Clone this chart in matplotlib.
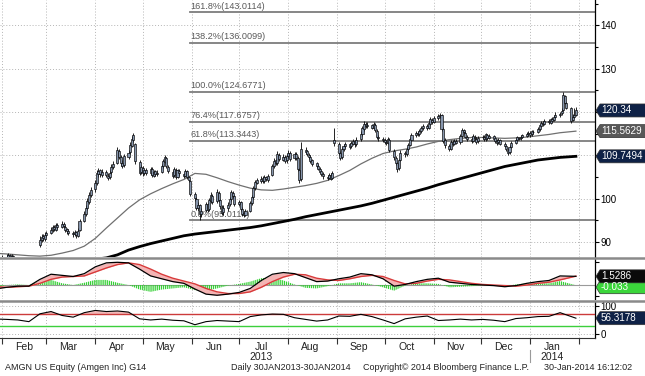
import numpy as np
import pandas as pd
import matplotlib
matplotlib.use("Agg")
import matplotlib.pyplot as plt
import matplotlib.dates as mdates
from matplotlib.patches import Polygon
from matplotlib.lines import Line2D
from matplotlib.transforms import IdentityTransform

plt.rcParams['font.family'] = ['Liberation Sans', 'DejaVu Sans']
plt.rcParams['hatch.linewidth'] = 0.9

# ---------------- data ----------------
opens = [85.0, 85.4, 85.7,
 86.2, 86.6, 86.9, 86.3, 86.8,  86.3, 86.0, 85.7, 85.3, 85.9,  85.6, 85.3, 84.9, 84.7, 85.4,
 89.2, 90.4, 91.3, 90.7, 91.5,  92.1, 92.7, 93.5, 92.8, 93.9,  93.4, 94.2, 93.5, 92.9, 92.5,
 92.1, 91.7, 92.3, 91.4, 92.7,  94.9, 96.4, 97.9, 99.3, 100.9,  102.2, 103.6, 105.6, 106.5, 105.4,
 106.1, 105.3, 104.9, 106.1, 107.2,  108.3, 111.0, 109.6, 108.2, 107.7,  109.6, 110.7, 112.2, 113.6, 112.5,
 108.4, 106.1, 107.0, 105.9, 106.6,  105.8, 106.9, 105.3, 106.3, 105.6,  106.1, 107.4, 108.5, 109.3, 107.3,
 106.2, 105.4, 106.7, 105.0, 106.4,  105.7, 105.3, 106.3, 104.9, 104.0,  101.1, 100.0, 97.9, 98.4, 96.5,
 97.3, 98.7, 97.5, 99.5, 100.7,  99.4, 101.3, 99.6, 98.1, 96.8,  97.8, 98.7, 99.8, 101.3, 100.5,
 98.8, 99.1, 97.7, 96.6, 96.3,  97.2, 98.9, 100.3, 102.4, 103.7,  104.1, 104.7, 104.0, 104.9, 104.3,
 105.4, 107.4, 108.8, 108.1, 110.1,  109.0, 109.6, 108.8, 109.8, 110.5,  109.3, 110.2, 109.3, 106.6, 104.5,
 111.2, 110.9, 110.1, 109.5, 108.8,  108.1, 107.5, 106.8, 106.3, 105.7,  105.0, 104.7, 105.4, 104.7, 113.5,
 112.6, 110.5, 109.5, 111.4, 112.1,  112.5, 112.1, 112.7, 113.2, 112.6,  113.7, 114.9, 116.1, 117.2, 116.7,
 116.9, 116.3, 117.0, 115.7, 114.3,  113.8, 113.5, 113.1, 112.9, 113.6,  111.0, 109.4, 108.1, 107.0, 108.9,
 110.5, 110.3, 111.4, 112.4, 113.6,  114.7, 115.1, 114.9, 115.5, 116.2,  116.7, 116.3, 117.3, 118.2, 117.7,
 118.6, 119.0, 119.2, 116.1, 113.5,  112.2, 111.5, 113.0, 112.7, 113.3,  113.0, 114.4, 115.8, 115.2, 114.3,
 113.7, 113.3, 114.3, 113.8, 113.2,  114.1, 114.2, 113.8, 114.7, 114.0,  114.4, 113.9, 113.3, 113.0, 113.5,
 112.6, 112.1, 111.3, 110.7, 112.0,  112.9, 113.5, 114.0, 113.9, 114.2,  114.5, 114.8, 115.1, 114.8, 115.4,
 115.4, 116.0, 116.8, 117.4, 117.1,  117.9, 117.5, 118.4, 118.1, 118.8,  119.3, 119.7, 120.5, 123.6, 122.0,
 120.8, 118.1, 118.8, 119.3]
highs = [86.0, 86.4, 87.0,
 87.2, 87.4, 87.3, 87.2, 87.0,  86.4, 86.3, 86.0, 86.2, 86.2,  85.9, 85.6, 85.3, 85.8, 86.3,
 91.3, 91.9, 91.7, 92.3, 92.6,  93.4, 94.0, 93.9, 94.4, 94.3,  94.7, 94.6, 93.9, 93.3, 92.9,
 92.5, 92.8, 92.6, 93.1, 95.3,  97.1, 98.4, 100.1, 101.5, 102.7,  104.2, 106.5, 107.1, 106.9, 106.8,
 106.6, 105.9, 106.5, 107.9, 108.7,  111.9, 111.5, 110.1, 108.8, 110.3,  111.2, 113.0, 114.4, 115.2, 112.9,
 108.9, 107.7, 107.5, 106.9, 107.0,  107.3, 107.2, 106.7, 106.6, 106.5,  107.9, 109.1, 110.0, 109.6, 107.7,
 106.6, 107.3, 107.0, 106.9, 106.8,  106.0, 106.9, 106.6, 105.3, 104.3,  101.6, 100.4, 99.1, 98.8, 97.8,
 99.3, 99.0, 100.1, 101.4, 101.0,  102.1, 101.7, 100.0, 98.5, 98.4,  99.1, 100.4, 102.0, 101.8, 100.8,
 99.7, 99.5, 98.1, 97.0, 97.5,  99.4, 100.9, 103.0, 104.3, 104.8,  105.1, 105.2, 105.5, 105.3, 105.7,
 108.0, 109.4, 109.2, 110.9, 110.5,  110.2, 110.0, 110.4, 111.2, 110.9,  110.8, 110.7, 109.8, 107.1, 113.0,
 111.8, 111.3, 110.6, 110.0, 109.2,  108.5, 107.9, 107.3, 106.7, 106.1,  105.4, 106.0, 105.8, 106.3, 116.2,
 113.0, 111.0, 111.9, 112.7, 113.1,  112.9, 113.3, 113.8, 113.6, 114.1,  115.5, 116.8, 117.8, 117.7, 117.6,
 117.3, 117.6, 117.4, 116.0, 114.7,  114.2, 114.0, 113.5, 114.1, 113.9,  111.4, 109.8, 108.5, 109.2, 111.1,
 111.0, 111.9, 112.8, 114.1, 115.1,  115.6, 115.5, 116.0, 116.8, 117.2,  117.1, 117.9, 118.8, 118.6, 119.0,
 119.6, 119.7, 119.5, 116.5, 114.0,  112.6, 113.6, 113.5, 113.8, 113.7,  114.9, 116.3, 116.1, 115.6, 114.7,
 114.1, 114.8, 114.7, 114.1, 114.4,  114.7, 114.6, 115.2, 115.0, 114.9,  114.7, 114.2, 113.7, 114.0, 113.8,
 113.0, 112.4, 111.7, 112.3, 113.2,  114.0, 114.5, 114.3, 114.7, 115.0,  115.3, 115.7, 115.5, 115.9, 115.8,
 116.6, 117.3, 117.9, 117.8, 118.3,  118.3, 118.7, 118.8, 119.3, 119.9,  120.1, 120.8, 124.68, 123.9, 122.4,
 121.1, 119.5, 121.0, 121.2]
lows = [84.7, 85.1, 85.4,
 85.8, 86.1, 85.9, 85.9, 85.7,  85.4, 85.2, 84.9, 85.0, 85.1,  84.8, 84.4, 84.1, 84.3, 85.0,
 88.9, 89.9, 90.2, 90.3, 91.1,  91.7, 92.3, 92.4, 92.5, 93.0,  93.1, 93.2, 92.3, 91.8, 91.5,
 91.2, 91.4, 91.0, 91.1, 92.4,  94.5, 95.9, 97.3, 98.8, 100.4,  101.6, 103.1, 105.0, 105.0, 104.9,
 105.0, 104.3, 104.4, 105.7, 106.8,  108.0, 109.1, 107.5, 107.0, 107.3,  109.1, 110.2, 111.8, 113.1, 108.0,
 105.5, 105.6, 105.3, 105.4, 105.4,  105.4, 105.0, 104.9, 105.2, 105.3,  105.8, 107.0, 108.1, 107.0, 105.9,
 104.8, 105.0, 104.5, 104.7, 105.3,  104.8, 104.9, 104.6, 103.8, 100.5,  99.4, 97.3, 97.2, 95.0, 95.8,
 96.9, 96.8, 97.1, 99.0, 98.8,  99.0, 99.3, 97.7, 96.1, 96.3,  97.2, 98.3, 99.4, 100.1, 98.2,
 98.2, 97.2, 96.0, 95.7, 95.9,  96.9, 98.5, 100.0, 102.0, 103.3,  103.7, 103.7, 103.6, 104.0, 103.9,
 105.1, 107.0, 107.7, 107.8, 108.6,  108.6, 108.2, 108.3, 109.4, 108.7,  108.9, 109.0, 106.3, 103.6, 104.1,
 110.2, 109.8, 109.1, 108.2, 107.6,  107.1, 106.5, 105.8, 105.1, 104.6,  104.3, 104.4, 104.2, 104.4, 112.2,
 110.1, 108.9, 109.1, 110.9, 111.7,  111.5, 111.7, 112.3, 112.0, 112.2,  113.3, 114.5, 115.7, 116.3, 116.3,
 116.0, 116.0, 115.4, 113.8, 113.4,  113.1, 112.6, 112.3, 112.5, 110.8,  109.0, 107.8, 106.1, 106.6, 108.6,
 109.7, 109.9, 111.0, 112.1, 113.2,  114.3, 114.4, 114.5, 115.2, 115.9,  115.8, 116.0, 117.0, 117.2, 117.4,
 118.2, 118.6, 115.6, 112.9, 111.7,  110.9, 111.1, 112.2, 112.3, 112.5,  112.7, 114.1, 115.0, 113.9, 113.4,
 112.8, 113.0, 113.5, 112.7, 112.9,  113.7, 113.3, 113.4, 113.6, 113.7,  113.5, 112.8, 112.4, 112.7, 112.3,
 111.8, 111.0, 110.0, 110.3, 111.7,  112.6, 113.2, 113.5, 113.5, 113.9,  114.2, 114.5, 114.3, 114.5, 114.9,
 115.1, 115.7, 116.5, 116.8, 116.9,  117.2, 117.2, 117.6, 117.8, 118.5,  118.9, 119.3, 120.3, 121.8, 120.6,
 117.4, 117.8, 118.5, 119.0]
closes = [85.5, 85.8, 86.3,
 86.5, 86.9, 86.4, 86.8, 86.2,  86.0, 85.6, 85.4, 85.8, 85.5,  85.2, 84.9, 84.6, 85.3, 85.8,
 90.5, 91.2, 90.8, 91.6, 92.0,  92.8, 93.4, 92.9, 93.8, 93.5,  94.1, 93.6, 92.8, 92.4, 92.0,
 91.8, 92.2, 91.5, 92.6, 94.8,  96.5, 97.8, 99.5, 100.8, 102.0,  103.5, 105.8, 106.4, 105.6, 106.2,
 105.4, 104.8, 106.0, 107.3, 108.0,  111.3, 109.5, 108.1, 107.6, 109.8,  110.5, 112.4, 113.8, 114.6, 108.6,
 106.0, 107.2, 105.8, 106.5, 105.9,  106.8, 105.4, 106.2, 105.7, 106.0,  107.5, 108.6, 109.5, 107.4, 106.3,
 105.3, 106.8, 104.9, 106.5, 105.8,  105.2, 106.4, 105.0, 104.2, 101.0,  100.2, 97.8, 98.5, 96.4, 97.2,
 98.8, 97.4, 99.6, 100.8, 99.3,  101.5, 99.7, 98.2, 96.7, 97.9,  98.6, 99.9, 101.4, 100.6, 98.7,
 99.2, 97.6, 96.5, 96.2, 97.1,  99.0, 100.4, 102.5, 103.8, 104.2,  104.6, 104.1, 105.0, 104.4, 105.2,
 107.5, 108.6, 108.2, 110.3, 109.1,  109.5, 108.7, 109.9, 110.6, 109.2,  110.3, 109.4, 106.8, 104.2, 111.4,
 110.8, 110.2, 109.6, 108.7, 108.0,  107.6, 106.9, 106.2, 105.6, 105.1,  104.8, 105.5, 104.6, 105.9, 112.8,
 110.6, 109.4, 111.5, 112.2, 112.6,  112.0, 112.8, 113.3, 112.5, 113.6,  115.0, 116.2, 117.3, 116.8, 117.0,
 116.4, 117.1, 115.8, 114.2, 113.9,  113.6, 113.0, 112.8, 113.7, 111.2,  109.5, 108.2, 106.9, 108.8, 110.6,
 110.2, 111.5, 112.3, 113.7, 114.6,  115.2, 114.8, 115.6, 116.3, 116.8,  116.2, 117.4, 118.3, 117.6, 118.5,
 119.1, 119.3, 116.0, 113.4, 112.3,  111.4, 113.1, 112.6, 113.4, 112.9,  114.5, 115.9, 115.3, 114.2, 113.8,
 113.2, 114.4, 113.9, 113.1, 114.0,  114.3, 113.7, 114.8, 113.9, 114.5,  113.8, 113.2, 112.9, 113.6, 112.7,
 112.2, 111.4, 110.6, 111.9, 112.8,  113.6, 114.1, 113.8, 114.3, 114.6,  114.9, 115.2, 114.7, 115.5, 115.3,
 116.1, 116.9, 117.5, 117.2, 117.8,  117.6, 118.3, 118.0, 118.9, 119.4,  119.6, 120.3, 123.8, 122.1, 121.0,
 118.0, 118.9, 119.4, 120.34]

# weekly readings (first session, each Monday, last session)
ma50 = [87.3, 87.2, 87.0, 86.8, 86.7, 86.9, 87.4, 88.0, 89.0, 90.8, 93.2, 95.5, 97.8, 99.7,
        101.1, 102.3, 103.4, 104.4, 105.8, 105.6, 104.8, 103.9, 103.1, 102.4, 102.0, 101.9,
        102.2, 102.6, 103.0, 103.5, 104.2, 105.3, 106.5, 108.0, 109.3, 110.4, 111.0, 111.4,
        111.9, 112.6, 113.2, 113.6, 113.9, 114.1, 114.1, 114.0, 113.9, 114.0, 114.2, 114.5,
        114.8, 115.2, 115.5629]
ma200 = [81.5, 82.0, 82.5, 83.0, 83.5, 84.0, 84.5, 85.0, 85.5, 86.0, 86.3, 87.0, 88.1, 88.9,
         89.6, 90.2, 90.8, 91.4, 91.8, 92.1, 92.4, 92.7, 93.0, 93.3, 93.7, 94.2, 94.7, 95.2,
         95.8, 96.3, 96.8, 97.3, 97.8, 98.3, 98.9, 99.6, 100.3, 101.0, 101.7, 102.4, 103.2,
         103.9, 104.6, 105.3, 106.0, 106.7, 107.4, 107.9, 108.4, 108.9, 109.2, 109.5, 109.7494]
macd = [-0.6, -0.4, -0.2, -0.2, 1.0, 1.9, 1.7, 1.5, 2.0, 3.2, 3.9, 4.0, 3.9, 2.8, 1.6, 1.1,
        0.6, 0.3, -0.7, -1.6, -1.8, -1.6, -1.3, -0.6, 0.8, 1.9, 2.2, 2.0, 1.3, 0.6, 0.7, 1.1,
        1.4, 2.0, 1.8, 1.1, -0.2, 0.1, 0.6, 1.0, 1.2, 0.5, 0.3, 0.1, 0.0, -0.1, -0.3, -0.1,
        0.3, 0.6, 0.8, 1.6, 1.5286]
signal = [-0.3, -0.4, -0.3, -0.2, 0.3, 1.0, 1.4, 1.5, 1.6, 2.3, 3.0, 3.6, 3.9, 3.6, 2.8, 1.9,
          1.2, 0.7, 0.2, -0.6, -1.2, -1.5, -1.5, -1.2, -0.4, 0.6, 1.4, 1.9, 1.8, 1.2, 0.9, 0.8,
          1.1, 1.5, 1.7, 1.5, 0.8, 0.2, 0.3, 0.7, 1.0, 0.9, 0.6, 0.3, 0.1, 0.0, -0.1, -0.2,
          0.0, 0.3, 0.5, 0.9, 1.5616]
hist = [-0.3, 0.0, 0.1, 0.0, 0.7, 0.9, 0.3, 0.0, 0.4, 0.9, 0.9, 0.4, 0.0, -0.8, -1.2, -0.8,
        -0.6, -0.4, -0.9, -1.0, -0.6, -0.1, 0.2, 0.6, 1.2, 1.3, 0.8, 0.1, -0.5, -0.6, -0.2, 0.3,
        0.3, 0.5, 0.1, -0.4, -1.0, -0.1, 0.3, 0.3, 0.2, -0.4, -0.3, -0.2, -0.1, -0.1, -0.2, 0.1,
        0.3, 0.3, 0.3, 0.7, -0.033]
rsi = [53, 52, 50, 44, 72, 80, 66, 60, 76, 84, 80, 82, 78, 54, 50, 53, 49, 47, 33, 44, 48, 46,
       44, 62, 68, 71, 70, 58, 52, 46, 50, 64, 63, 70, 62, 50, 37, 54, 60, 64, 48, 50, 53, 50,
       52, 49, 44, 55, 58, 62, 63, 76, 56.3178]

fib_pct = ['161.8%', '138.2%', '100.0%', '76.4%', '61.8%', '0.0%']
fib_val = [143.0114, 136.0099, 124.6771, 117.6757, 113.3443, 95.0114]

price_ticks = [90, 100, 110, 120, 130, 140]
price_tick_labels = ['90', '100', '', '', '130', '140']   # 110 / 120 sit under the value tags
footer = ['AMGN US Equity (Amgen Inc) G14', 'Daily 30JAN2013-30JAN2014',
          'Copyright\u00a9 2014 Bloomberg Finance L.P.', '30-Jan-2014 16:12:02']

# ---------------- layout ----------------
W, H = 645, 376
fig = plt.figure(figsize=(W / 100, H / 100), dpi=100)
fig.patch.set_facecolor('white')

def fy(px):
    return 1 - px / H

RIGHT = 595 / W
ax = fig.add_axes([0, fy(257), RIGHT, 257 / H])
axm = fig.add_axes([0, fy(299), RIGHT, 40 / H])
axr = fig.add_axes([0, fy(338), RIGHT, 36 / H])

dates = pd.bdate_range('2013-01-30', '2014-01-30')
week_dates = ([pd.Timestamp('2013-01-30')] +
              list(pd.date_range('2013-02-04', periods=51, freq='7D')) +
              [pd.Timestamp('2014-01-30')])
xlim = (pd.Timestamp('2013-01-30 17:00'), pd.Timestamp('2014-02-11 02:00'))

O = np.array(opens); Hh = np.array(highs); L = np.array(lows); C = np.array(closes)

grid_kw = dict(color='#b5b5b5', linestyle=(0, (1, 2)), linewidth=0.7)

for a in (ax, axm, axr):
    a.set_xlim(*xlim)
    a.set_facecolor('white')
    for s in ('left', 'top'):
        a.spines[s].set_visible(False)
    a.spines['right'].set_color('black')
    a.spines['right'].set_linewidth(0.9)
    a.xaxis.set_major_locator(mdates.MonthLocator())
    a.xaxis.set_major_formatter(plt.NullFormatter())
    a.grid(axis='x', **grid_kw)
    a.set_axisbelow(True)
    a.yaxis.tick_right()
    a.tick_params(axis='y', direction='out', length=3, width=0.8, labelsize=7, pad=1,
                  colors='black')
ax.spines['bottom'].set_visible(False)
axm.spines['bottom'].set_visible(False)
ax.tick_params(axis='x', length=0)
axm.tick_params(axis='x', length=0)

# ---- main price panel ----
ax.set_ylim(86.5, 145.85)
ax.set_yticks(price_ticks)
ax.set_yticklabels(price_tick_labels)
ax.set_yticks([95, 105, 115, 125, 135, 145], minor=True)
ax.tick_params(axis='y', which='minor', direction='out', length=2, width=0.8)
ax.grid(axis='y', **grid_kw)

fib_start = pd.Timestamp('2013-05-31')
for p, v in zip(fib_pct, fib_val):
    ax.plot([fib_start, xlim[1]], [v, v], color='#7d7d7d', lw=1.3, zorder=2)
    ax.text(fib_start, v + 0.35, f'{p}({v:.4f})', fontsize=6.6, color='#5a5a5a',
            ha='left', va='bottom', zorder=2)

ax.plot(week_dates, ma200, color='black', lw=2.0, zorder=3)
ax.plot(week_dates, ma50, color='#707070', lw=0.9, zorder=3)

ax.vlines(dates, L, Hh, color='black', lw=0.6, zorder=4)
body_lo = np.minimum(O, C)
body_h = np.maximum(np.abs(C - O), 0.15)
ax.bar(dates, body_h, bottom=body_lo, width=1.3, color='#8796ad', edgecolor='black',
       linewidth=0.45, zorder=5)

# ---- MACD panel ----
axm.set_ylim(-2.46, 4.58)
axm.set_yticks([-2, 4])
axm.set_yticklabels([])
axm.axhline(0, color='#9a9a9a', lw=0.8, zorder=1)
axm.fill_between(week_dates, 0, hist, facecolor='none', edgecolor='#35d035',
                 hatch='||||||||', linewidth=0, zorder=2)
axm.fill_between(week_dates, macd, signal, color='#f4b4b4', lw=0, zorder=3)
axm.plot(week_dates, signal, color='#d83a3a', lw=1.0, zorder=4)
axm.plot(week_dates, macd, color='black', lw=0.9, zorder=5)

# ---- RSI panel ----
axr.set_ylim(-14.3, 114)
axr.set_yticks([0, 100])
axr.set_yticklabels(['0', '100'])
for v in (0, 100):
    axr.axhline(v, **grid_kw)
rsi_a = np.array(rsi)
axr.fill_between(week_dates, 70, rsi_a, where=rsi_a >= 70, interpolate=True,
                 color='#f2b9b9', lw=0, zorder=2)
axr.axhline(70, color='#cc3b3b', lw=1.0, zorder=3)
axr.axhline(30, color='#3ccf3c', lw=1.0, zorder=3)
axr.plot(week_dates, rsi, color='black', lw=0.8, zorder=4)

axr.spines['bottom'].set_color('#333333')
axr.spines['bottom'].set_linewidth(0.8)
axr.xaxis.set_minor_locator(mdates.MonthLocator(bymonthday=15))
axr.xaxis.set_minor_formatter(mdates.DateFormatter('%b'))
axr.tick_params(axis='x', which='major', direction='out', length=4, width=0.8,
                colors='#333333')
axr.tick_params(axis='x', which='minor', length=0, labelsize=7.5, pad=3,
                labelcolor='#222222')

for yr_date, yr in ((pd.Timestamp('2013-07-15'), '2013'), (pd.Timestamp('2014-01-15'), '2014')):
    axr.annotate(yr, xy=(yr_date, 0), xycoords=('data', 'axes fraction'),
                 xytext=(0, -19 * 0.72), textcoords='offset points',
                 ha='center', va='center', fontsize=7.5, color='#222222')
axr.plot([pd.Timestamp('2014-01-01')] * 2, [-0.33, -0.67],
         transform=axr.get_xaxis_transform(), clip_on=False, color='#9a9a9a', lw=0.8)

# panel separators
for ypx in (257.8, 300.5):
    fig.add_artist(Line2D([0, 1], [fy(ypx), fy(ypx)], transform=fig.transFigure,
                          color='#8a8a8a', lw=1.8))

# value tags
def tag(a, val, text, fc, tc='white', dy=0.0):
    yd = a.transData.transform((mdates.date2num(xlim[0]), val))[1] - dy
    h = 13
    x0, x1, tip = 596, 646, 4
    poly = Polygon([(x0, yd), (x0 + tip, yd + h / 2), (x1, yd + h / 2),
                    (x1, yd - h / 2), (x0 + tip, yd - h / 2)], closed=True,
                   transform=IdentityTransform(), facecolor=fc, edgecolor='#333333',
                   lw=0.5, zorder=10)
    fig.add_artist(poly)
    fig.text(x0 + tip + 1, yd, text, transform=IdentityTransform(), color=tc,
             fontsize=7.1, va='center', ha='left', zorder=11)

tag(ax, closes[-1], f'{closes[-1]:.2f}', '#0e2146')
tag(ax, ma50[-1], f'{ma50[-1]:.4f}', '#585858')
tag(ax, ma200[-1], f'{ma200[-1]:.4f}', '#0e2146')
tag(axm, hist[-1], f'{hist[-1]:.3f}', '#3bd63b', dy=2)
tag(axm, macd[-1], f'{macd[-1]:.4f}', '#0a0a0a')
tag(axr, rsi[-1], f'{rsi[-1]:.4f}', '#0e2146')

# footer
for xpx, t in zip([5, 231, 363, 544], footer):
    fig.text(xpx / W, fy(367), t, fontsize=6.5, color='#222222', va='center', ha='left')

fig.savefig('out.png', dpi=100)
